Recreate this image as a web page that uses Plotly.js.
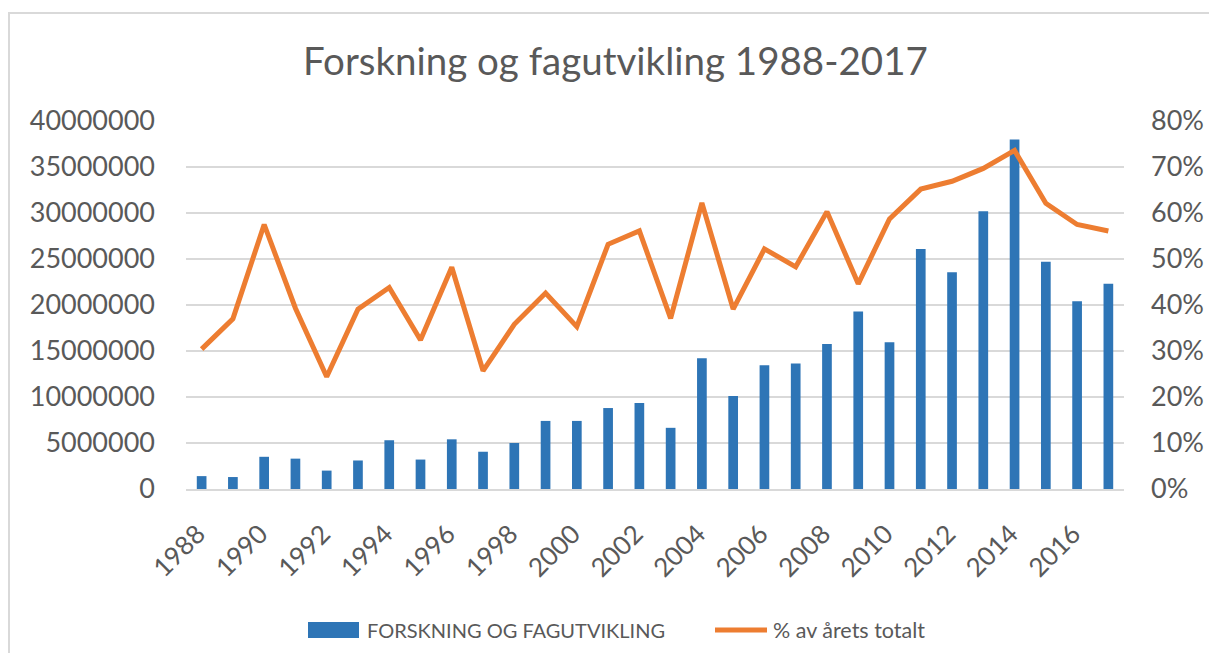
<!DOCTYPE html>
<html>
<head>
<meta charset="utf-8">
<script src="https://cdn.plot.ly/plotly-3.0.1.min.js"></script>
<style>
  html, body { margin: 0; padding: 0; background: #fff; }
  #chart { width: 1209px; height: 653px; }
  #frame { position: absolute; left: 8px; top: 12px; width: 1300px; height: 700px;
           border-left: 2px solid #d9d9d9; border-top: 2px solid #d9d9d9; pointer-events: none; }
</style>
</head>
<body>
<div id="chart"></div>
<div id="frame"></div>
<script>
const years = [1988,1989,1990,1991,1992,1993,1994,1995,1996,1997,1998,1999,2000,2001,2002,2003,2004,2005,2006,2007,2008,2009,2010,2011,2012,2013,2014,2015,2016,2017];
const forskning = [1400000,1300000,3500000,3300000,2000000,3100000,5300000,3200000,5400000,4050000,5000000,7400000,7400000,8800000,9350000,6650000,14200000,10100000,13450000,13650000,15750000,19300000,15950000,26100000,23550000,30200000,38000000,24700000,20400000,22300000];
const andel = [0.304,0.370,0.575,0.393,0.244,0.391,0.438,0.324,0.482,0.257,0.358,0.426,0.353,0.532,0.561,0.371,0.622,0.391,0.522,0.483,0.603,0.446,0.587,0.652,0.669,0.697,0.736,0.621,0.575,0.561];
const tickYears = years.filter(y => (y - 1988) % 2 === 0);
const seriesNames = ['FORSKNING OG FAGUTVIKLING', '% av årets totalt'];
const colors = ['#2e75b6', '#ed7d31'];

const font = 'Lato, "Open Sans", sans-serif';
const grey = '#595959';

const traces = [
  {
    type: 'bar', x: years, y: forskning, name: seriesNames[0],
    marker: { color: colors[0] }, yaxis: 'y'
  },
  {
    type: 'scatter', mode: 'lines', x: years, y: andel, name: seriesNames[1],
    line: { color: colors[1], width: 5 }, yaxis: 'y2'
  }
];

// plot area in pixels (used for the hand-drawn legend)
const W = 1209, H = 653, ML = 186, MR = 85, MT = 121, MB = 164;
const PW = W - ML - MR, PH = H - MT - MB;
const px = v => (v - ML) / PW;
const py = v => (H - MB - v) / PH;
const legY = 630;

const layout = {
  width: W, height: H,
  paper_bgcolor: 'rgba(0,0,0,0)', plot_bgcolor: 'rgba(0,0,0,0)',
  margin: { l: ML, r: MR, t: MT, b: MB },
  font: { family: font, color: grey },
  title: { text: 'Forskning og fagutvikling 1988-2017', font: { family: font, size: 38.5, color: grey },
           x: 0.509, xref: 'container', xanchor: 'center', y: 1 - 62/653, yref: 'container', yanchor: 'middle' },
  bargap: 0.69,
  showlegend: false,
  xaxis: {
    range: [1987.5, 2017.5], tickmode: 'array', tickvals: tickYears, ticktext: tickYears.map(String),
    tickangle: -45, tickfont: { size: 26, color: grey }, showgrid: false,
    showline: true, linecolor: '#d9d9d9', linewidth: 1.5, ticks: '', zeroline: false,
    ticklabelstandoff: 18, ticklabelshift: -4
  },
  yaxis: {
    range: [0, 40000000], dtick: 5000000, tickformat: 'd', tickfont: { size: 27, color: grey },
    showgrid: true, gridcolor: '#d9d9d9', gridwidth: 1.3, zeroline: false, ticks: '',
    ticklabelstandoff: 30, showline: false
  },
  yaxis2: {
    range: [0, 0.8], dtick: 0.1, tickformat: '.0%', overlaying: 'y', side: 'right',
    tickfont: { size: 27, color: grey }, showgrid: false, zeroline: false, ticks: '',
    ticklabelstandoff: 26, showline: false
  },
  shapes: [
    { type: 'rect', xref: 'paper', yref: 'paper', x0: px(308), x1: px(359), y0: py(622), y1: py(638),
      fillcolor: colors[0], line: { width: 0 } },
    { type: 'line', xref: 'paper', yref: 'paper', x0: px(715), x1: px(767), y0: py(legY), y1: py(legY),
      line: { color: colors[1], width: 5 } }
  ],
  annotations: [
    { xref: 'paper', yref: 'paper', x: px(365), y: py(legY), xanchor: 'left', yanchor: 'middle',
      text: seriesNames[0], showarrow: false, font: { family: font, size: 20, color: grey } },
    { xref: 'paper', yref: 'paper', x: px(771), y: py(legY), xanchor: 'left', yanchor: 'middle',
      text: seriesNames[1], showarrow: false, font: { family: font, size: 21.5, color: grey } }
  ]
};

Plotly.newPlot('chart', traces, layout, { displayModeBar: false, staticPlot: true });
</script>
</body>
</html>
